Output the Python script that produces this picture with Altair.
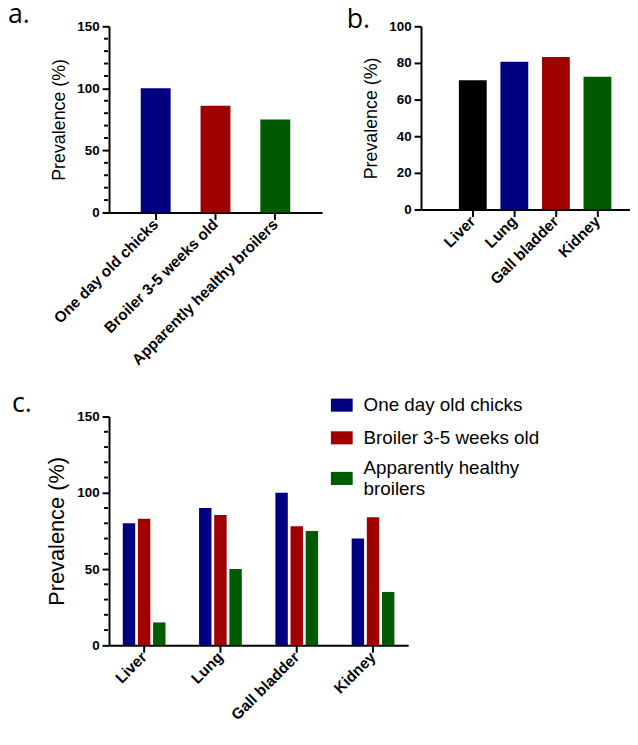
import altair as alt
import pandas as pd

# ---- data ----
groups = ["One day old chicks", "Broiler 3-5 weeks old", "Apparently healthy broilers"]
group_prev = [100, 86, 75]
group_colors = ["#000080", "#A00000", "#005A00"]

organs = ["Liver", "Lung", "Gall bladder", "Kidney"]
organ_prev = [70.6, 80.7, 83.3, 72.5]
organ_colors = ["#000000", "#000080", "#A00000", "#005A00"]

c_one_day = [80, 90, 100, 70]
c_broiler = [83, 85.5, 78, 84]
c_healthy = [15, 50, 75, 35]

panel_labels = ["a.", "b.", "c."]
major_ticks_150 = [0, 50, 100, 150]
minor_ticks_150 = [10, 20, 30, 40, 60, 70, 80, 90, 110, 120, 130, 140]
ticks_100 = [0, 20, 40, 60, 80, 100]

# ---- tables ----
df_a = pd.DataFrame({"group": groups, "prev": group_prev})
df_b = pd.DataFrame({"organ": organs, "prev": organ_prev})
rows = []
for i, o in enumerate(organs):
    for g, vals in zip(groups, [c_one_day, c_broiler, c_healthy]):
        rows.append({"organ": o, "group": g, "prev": vals[i]})
df_c = pd.DataFrame(rows)
df_minor = pd.DataFrame({"tick": minor_ticks_150})

LABEL_FONT = "Liberation Sans"


def y_axis(values, title_size):
    return alt.Axis(
        title="Prevalence (%)", titleFontSize=title_size, titlePadding=8,
        labelFontSize=13.5, labelPadding=3, values=values, tickSize=7,
    )


def x_axis():
    return alt.Axis(title=None, labelAngle=-45, labelAlign="right", labelBaseline="middle",
                    labelFontSize=15.5, labelPadding=2, tickSize=7, labelLimit=400)


def panel_label(text, x, y):
    return alt.Chart(pd.DataFrame({"t": [text]})).mark_text(
        font="Open Sans", fontSize=27, align="left", baseline="alphabetic", color="black"
    ).encode(text="t:N", x=alt.value(x), y=alt.value(y))


def minor_ticks():
    # short ticks between the labelled ones, placed through the shared y scale
    return alt.Chart(df_minor).mark_rule(color="black", strokeWidth=2, strokeCap="butt").encode(
        y=alt.Y("tick:Q", scale=alt.Scale(domain=[0, 150], nice=False),
                axis=alt.Axis(title="Prevalence (%)")),
        x=alt.value(-5), x2=alt.value(-1),
    )


# ---- panel a ----
bars_a = alt.Chart(df_a).mark_bar().encode(
    x=alt.X("group:N", sort=groups, axis=x_axis(),
            scale=alt.Scale(paddingInner=0.5, paddingOuter=0.53)),
    y=alt.Y("prev:Q", scale=alt.Scale(domain=[0, 150], nice=False), axis=y_axis(major_ticks_150, 18)),
    color=alt.Color("group:N", scale=alt.Scale(domain=groups, range=group_colors), legend=None),
)
pa = alt.layer(bars_a, minor_ticks(), panel_label(panel_labels[0], -102, -3)).properties(
    width=215, height=188)

# ---- panel b ----
bars_b = alt.Chart(df_b).mark_bar().encode(
    x=alt.X("organ:N", sort=organs, axis=x_axis(),
            scale=alt.Scale(paddingInner=0.33, paddingOuter=0.68, align=0.67)),
    y=alt.Y("prev:Q", scale=alt.Scale(domain=[0, 100], nice=False), axis=y_axis(ticks_100, 18)),
    color=alt.Color("organ:N", scale=alt.Scale(domain=organs, range=organ_colors), legend=None),
)
pb = alt.layer(bars_b, panel_label(panel_labels[1], -75, 2)).properties(width=211, height=185)

# ---- panel c ----
two_line = "datum.label == 'Apparently healthy broilers'"
bars_c = alt.Chart(df_c).mark_bar().encode(
    x=alt.X("organ:N", sort=organs, axis=x_axis(),
            scale=alt.Scale(paddingInner=0.44, paddingOuter=0.18)),
    xOffset=alt.XOffset("group:N", sort=groups, scale=alt.Scale(paddingInner=0.18, paddingOuter=0)),
    y=alt.Y("prev:Q", scale=alt.Scale(domain=[0, 150], nice=False), axis=y_axis(major_ticks_150, 22)),
    color=alt.Color(
        "group:N", sort=groups,
        scale=alt.Scale(domain=groups, range=group_colors),
        legend=alt.Legend(
            title=None, orient="none", legendX=224, legendY=-22.5,
            symbolType="M-1,-0.6L1,-0.6L1,0.6L-1,0.6Z", symbolSize=484,
            symbolStrokeWidth=0, symbolOpacity=1,
            labelFont=LABEL_FONT, labelFontSize=19, labelFontWeight="normal",
            labelColor="black", labelOffset=11, rowPadding=12, padding=0, labelLimit=400,
            labelBaseline=alt.ExprRef(f"{two_line} ? 'bottom' : 'middle'"),
            labelExpr=f"{two_line} ? ['Apparently healthy', 'broilers'] : datum.label",
        ),
    ),
)
pc = alt.layer(bars_c, minor_ticks(), panel_label(panel_labels[2], -98, -5)).properties(
    width=302, height=231)

top = alt.hconcat(pa, pb, spacing=100, bounds="flush").resolve_scale(color="independent")
chart = alt.vconcat(top, pc, spacing=22).resolve_scale(color="independent").properties(
    padding={"left": 0, "top": -10, "right": 0, "bottom": 0}
).configure_view(stroke=None).configure_axis(
    grid=False, domainColor="black", domainWidth=2, tickColor="black", tickWidth=2,
    labelColor="black", titleColor="black", labelFont=LABEL_FONT, titleFont=LABEL_FONT,
    labelFontWeight="bold", titleFontWeight="normal",
)

chart.save("out.html", embed_options={"renderer": "svg", "actions": False})
